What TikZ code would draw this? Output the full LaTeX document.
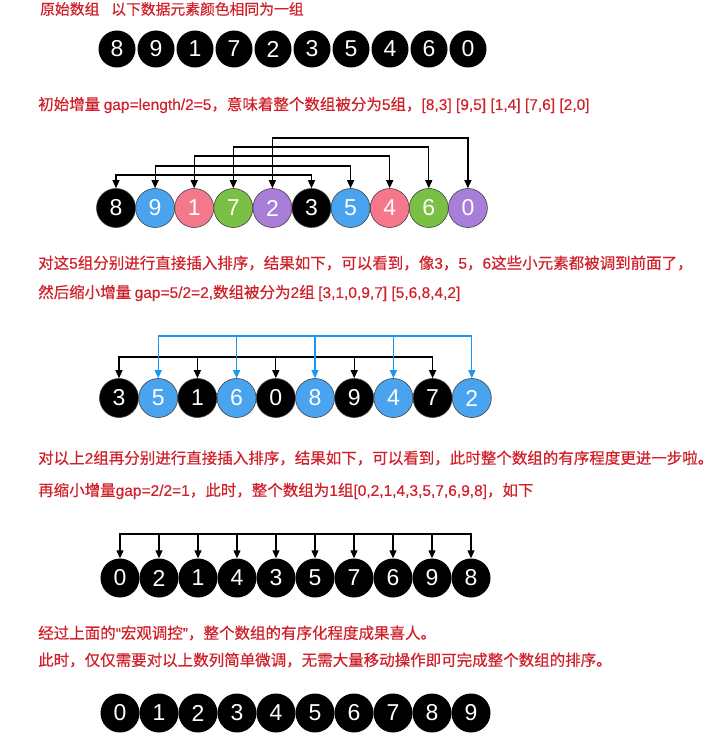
\documentclass[tikz,border=0pt]{standalone}
\usepackage{fontspec}
\setmainfont{Liberation Sans}
\newfontfamily\cjk[FakeBold=0.5]{Noto Sans CJK SC}
\newfontfamily\latn[FakeBold=0.3]{Liberation Sans}
\usetikzlibrary{arrows.meta}
\definecolor{notered}{RGB}{208,32,42}
\definecolor{ballblue}{RGB}{74,163,238}
\definecolor{ballpink}{RGB}{244,120,138}
\definecolor{ballgreen}{RGB}{122,192,68}
\definecolor{ballpurple}{RGB}{168,126,216}
\definecolor{linkblue}{RGB}{24,152,246}

\begin{document}
\begin{tikzpicture}[
    x=1pt, y=-1pt,
    every node/.style={font=\fontsize{23}{23}\selectfont},
    ball/.style={circle, fill=black, text=white, inner sep=0pt, minimum size=39pt},
    rim/.style={ball, draw=black!75, line width=0.6pt},
    note/.style={anchor=west, text=notered, inner sep=0pt, font=\cjk\fontsize{15.5}{18}\selectfont},
    link/.style={line width=1.2pt, line cap=rect},
    tip/.style={-{Triangle[length=8pt,width=7pt]}},
    arr/.style={link, tip},
]
\useasboundingbox (0,0) rectangle (727,752);

% the text lines
\node[note, font=\cjk\fontsize{14.8}{18}\selectfont] (t1) at (40,9) {原始数组\hspace{0.8em}以下数据元素颜色相同为一组};
\node[note] (t2) at (38,105) {初始增量 {\latn gap=length/2=5}，意味着整个数组被分为{\latn 5}组，{\latn [8,3] [9,5] [1,4] [7,6] [2,0]}};
\node[note] (t3) at (38,263) {对这{\latn 5}组分别进行直接插入排序，结果如下，可以看到，像{\latn 3}，{\latn 5}，{\latn 6}这些小元素都被调到前面了，};
\node[note] (t4) at (38,293) {然后缩小增量 {\latn gap=5/2=2,}数组被分为{\latn 2}组 {\latn [3,1,0,9,7] [5,6,8,4,2]}};
\node[note] (t5) at (38,458) {对以上{\latn 2}组再分别进行直接插入排序，结果如下，可以看到，此时整个数组的有序程度更进一步啦。};
\node[note] (t6) at (38,491) {再缩小增量{\latn gap=2/2=1}，此时，整个数组为{\latn 1}组{\latn [0,2,1,4,3,5,7,6,9,8]}，如下};
\node[note] (t7) at (38,633) {经过上面的{\latn “}宏观调控{\latn ”}，整个数组的有序化程度成果喜人。};
\node[note] (t8) at (38,660) {此时，仅仅需要对以上数列简单微调，无需大量移动操作即可完成整个数组的排序。};

% original array
\foreach \v [count=\i from 0] in {8,9,1,7,2,3,5,4,6,0}
  \node[ball, minimum size=37pt] (a\i) at (117+39*\i,49) {\v};

% gap = 5
\foreach \v/\c [count=\i from 0] in {8/black,9/ballblue,1/ballpink,7/ballgreen,2/ballpurple,3/black,5/ballblue,4/ballpink,6/ballgreen,0/ballpurple}
  \node[rim, fill=\c] (b\i) at (116+39.1*\i,208) {\v};
\foreach \i/\h in {0/175,1/166,2/156,3/147,4/138} {
  \pgfmathtruncatemacro\j{\i+5}
  \coordinate (bl\i) at (0,\h);
  \draw[link, {Triangle[length=8pt,width=7pt]}-{Triangle[length=8pt,width=7pt]}]
    (b\i.north) -- (b\i.north |- bl\i) -| (b\j.north);
}

% gap = 2
\foreach \v/\c [count=\i from 0] in {3/black,5/ballblue,1/black,6/ballblue,0/black,8/ballblue,9/black,4/ballblue,7/black,2/ballblue}
  \node[rim, fill=\c] (c\i) at (119+39.2*\i,398) {\v};
\coordinate (codd) at (0,336);
\coordinate (ceven) at (0,357);
\draw[link] (c0.north |- ceven) -- (c8.north |- ceven);
\foreach \i in {0,2,...,8}
  \draw[arr] (c\i.north |- ceven) -- (c\i.north);
\draw[link, linkblue] (c1.north |- codd) -- (c9.north |- codd);
\foreach \i in {1,3,...,9}
  \draw[arr, linkblue] (c\i.north |- codd) -- (c\i.north);

% gap = 1
\foreach \v [count=\i from 0] in {0,2,1,4,3,5,7,6,9,8}
  \node[ball] (d\i) at (120+39*\i,578) {\v};
\coordinate (dtop) at (0,534);
\draw[link] (d0.north |- dtop) -- (d9.north |- dtop);
\foreach \i in {0,...,9}
  \draw[arr] (d\i.north |- dtop) -- (d\i.north);

% sorted
\foreach \v [count=\i from 0] in {0,...,9}
  \node[ball] (e\i) at (120+39*\i,713) {\v};
\end{tikzpicture}
\end{document}
